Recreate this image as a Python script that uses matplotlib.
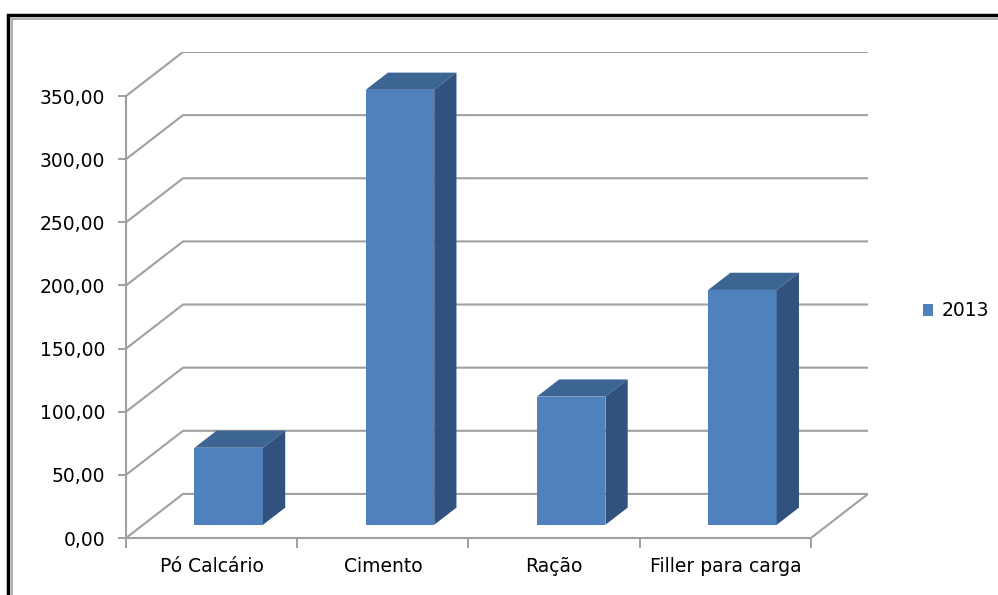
import matplotlib.pyplot as plt
from matplotlib.patches import Polygon, Rectangle, Patch
from matplotlib.ticker import FixedLocator, FuncFormatter

categorias = ["Pó Calcário", "Cimento", "Ração", "Filler para carga"]
valores_2013 = [61.0, 344.5, 101.5, 186.0]
serie = "2013"
y_ticks = [0, 50, 100, 150, 200, 250, 300, 350]

# oblique depth of the 3D box (in data units) and bar depth fractions
DX, DY = 0.333, 34.9
F0, F1 = 0.30, 0.69
LARGURA = 0.40

cor_frente = "#4F81BD"
cor_topo = "#3C6594"
cor_lado = "#31527F"
cor_grade = "#A0A0A0"

W, H = 998, 595
fig = plt.figure(figsize=(W / 100, H / 100), dpi=100)
plt.rcParams["font.family"] = "DejaVu Sans"

# outer frame (black line plus thin gray line inside)
fig.patches.append(Rectangle((7.5 / W, -0.1), 1.2, (H - 15) / H + 0.1,
                             transform=fig.transFigure, fill=False,
                             edgecolor="black", linewidth=2.5))
fig.patches.append(Rectangle((11.5 / W, -0.1), 1.2, (H - 19) / H + 0.1,
                             transform=fig.transFigure, fill=False,
                             edgecolor="#A0A0A0", linewidth=1.2))

n = len(categorias)
ymax = y_ticks[-1]
ax = fig.add_axes([126 / W, 57 / H, (868 - 126) / W, (538 - 52) / H])
ax.set_xlim(0, n + DX)
ax.set_ylim(0, ymax + DY)
ax.patch.set_visible(False)

# gridlines: diagonal on the left side then along the back wall
for v in y_ticks[1:]:
    ax.plot([0, DX, n + DX], [v, v + DY, v + DY], color=cor_grade, lw=1.5,
            solid_capstyle="butt", zorder=1)
# floor outline
ax.plot([0, DX, n + DX, n], [0, DY, DY, 0], color=cor_grade, lw=1.5, zorder=1)

# bars: front, top and right side faces
for i, v in enumerate(valores_2013):
    c = i + 0.5
    x0 = c - LARGURA / 2 + F0 * DX
    x1 = c + LARGURA / 2 + F0 * DX
    y0 = F0 * DY
    ddx = (F1 - F0) * DX
    ddy = (F1 - F0) * DY
    frente = Polygon([(x0, y0), (x1, y0), (x1, y0 + v), (x0, y0 + v)],
                     closed=True, facecolor=cor_frente, edgecolor="none", zorder=3)
    topo = Polygon([(x0, y0 + v), (x1, y0 + v), (x1 + ddx, y0 + v + ddy),
                    (x0 + ddx, y0 + v + ddy)],
                   closed=True, facecolor=cor_topo, edgecolor="none", zorder=3)
    lado = Polygon([(x1, y0), (x1 + ddx, y0 + ddy), (x1 + ddx, y0 + v + ddy),
                    (x1, y0 + v)],
                   closed=True, facecolor=cor_lado, edgecolor="none", zorder=3)
    for p in (frente, topo, lado):
        ax.add_patch(p)

# axes: only the front left and bottom edges
for s in ("top", "right"):
    ax.spines[s].set_visible(False)
ax.spines["left"].set_bounds(0, ymax)
ax.spines["bottom"].set_bounds(0, n)
for s in ("left", "bottom"):
    ax.spines[s].set_color(cor_grade)
    ax.spines[s].set_linewidth(1.5)
    ax.spines[s].set_zorder(2)

ax.yaxis.set_major_locator(FixedLocator(y_ticks))
ax.yaxis.set_major_formatter(FuncFormatter(lambda v, p: f"{v:.2f}".replace(".", ",")))
ax.xaxis.set_major_locator(FixedLocator(list(range(n + 1))))
ax.xaxis.set_major_formatter(FuncFormatter(lambda v, p: ""))
ax.xaxis.set_minor_locator(FixedLocator([i + 0.5 for i in range(n)]))
ax.xaxis.set_minor_formatter(FuncFormatter(lambda v, p: categorias[int(v)]))
ax.tick_params(axis="y", length=6, width=1.4, color=cor_grade, labelsize=13.5, pad=9)
ax.tick_params(axis="x", which="major", length=7, width=1.4, color=cor_grade)
ax.tick_params(axis="x", which="minor", length=0, labelsize=13.5, pad=14)

ax.legend(handles=[Patch(facecolor=cor_frente, label=serie)],
          loc="center left", bbox_to_anchor=(906 / W, 1 - 311 / H),
          bbox_transform=fig.transFigure, frameon=False, fontsize=13.5,
          handlelength=0.55, handleheight=0.55, handletextpad=0.45)

fig.savefig("out.png", dpi=100)
